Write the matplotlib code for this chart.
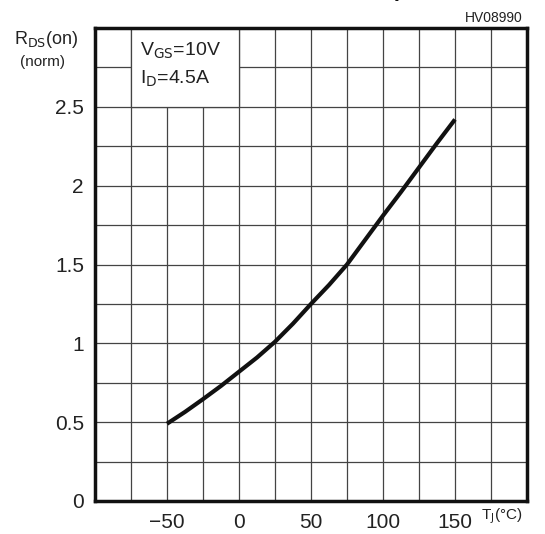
import numpy as np
import matplotlib.pyplot as plt
from matplotlib.patches import Rectangle

# curve
temp = [-50, -37.5, -25, -12.5, 0, 12.5, 25, 37.5, 50, 62.5, 75, 87.5, 100, 112.5, 125, 137.5, 150]
rds_norm = [0.49, 0.565, 0.646, 0.73, 0.82, 0.91, 1.01, 1.125, 1.25, 1.37, 1.5, 1.655, 1.81, 1.96, 2.115, 2.27, 2.42]

x_ticks = [-50, 0, 50, 100, 150]
x_labels = ['\u221250', '0', '50', '100', '150']
y_ticks = [0, 0.5, 1, 1.5, 2, 2.5]
y_labels = ['0', '0.5', '1', '1.5', '2', '2.5']

plt.rcParams['font.family'] = ['Liberation Sans', 'DejaVu Sans']

fig = plt.figure(figsize=(5.45, 5.34), dpi=100)
ax = fig.add_axes([95/545, 33/534, 432/545, 473/534])

ax.set_xlim(-100, 200)
ax.set_ylim(0, 3)
ax.set_xticks(x_ticks)
ax.set_xticklabels(x_labels)
ax.set_xticks(np.arange(-100, 201, 25), minor=True)
ax.set_yticks(y_ticks)
ax.set_yticklabels(y_labels)
ax.set_yticks(np.arange(0, 3.01, 0.25), minor=True)
ax.tick_params(which='both', length=0)
ax.tick_params(axis='x', pad=9, labelsize=15, colors='#222222')
ax.tick_params(axis='y', pad=8, labelsize=15, colors='#222222')

ax.set_axisbelow(True)
ax.grid(which='both', color='#444444', linewidth=0.9)

# white box holding the test conditions
ax.add_patch(Rectangle((-75, 2.5), 75, 0.5, facecolor='white',
                       edgecolor='#444444', linewidth=0.9, zorder=1))
ax.text(-69, 2.855, r'V$_{\rm GS}$=10V', fontsize=14, color='#222222', va='center')
ax.text(-69, 2.68, r'I$_{\rm D}$=4.5A', fontsize=14, color='#222222', va='center')

ax.plot(temp, rds_norm, color='#111111', linewidth=3, solid_capstyle='butt',
        solid_joinstyle='round', zorder=3)

for s in ax.spines.values():
    s.set_linewidth(2.5)
    s.set_color('#111111')

# axis captions
fig.text(14/545, 1 - 39/534, r'R$_{\rm DS}$(on)', fontsize=13, color='#222222', va='center')
fig.text(20/545, 1 - 62/534, '(norm)', fontsize=11, color='#222222', va='center')
fig.text(481/545, 1 - 516/534, 'T$_{\\rm J}$(\u00b0C)', fontsize=11, color='#222222', va='center')
fig.text(523/545, 1 - 18/534, 'HV08990', fontsize=10, color='#222222', va='center', ha='right')

# title cut off at the top edge of the image
fig.text(258/545, 1 + 4/534, 'Normalized On Resistance vs Temperature', fontsize=16,
         fontweight='bold', color='#111111', ha='center', va='baseline')

fig.savefig('out.png', dpi=100)
